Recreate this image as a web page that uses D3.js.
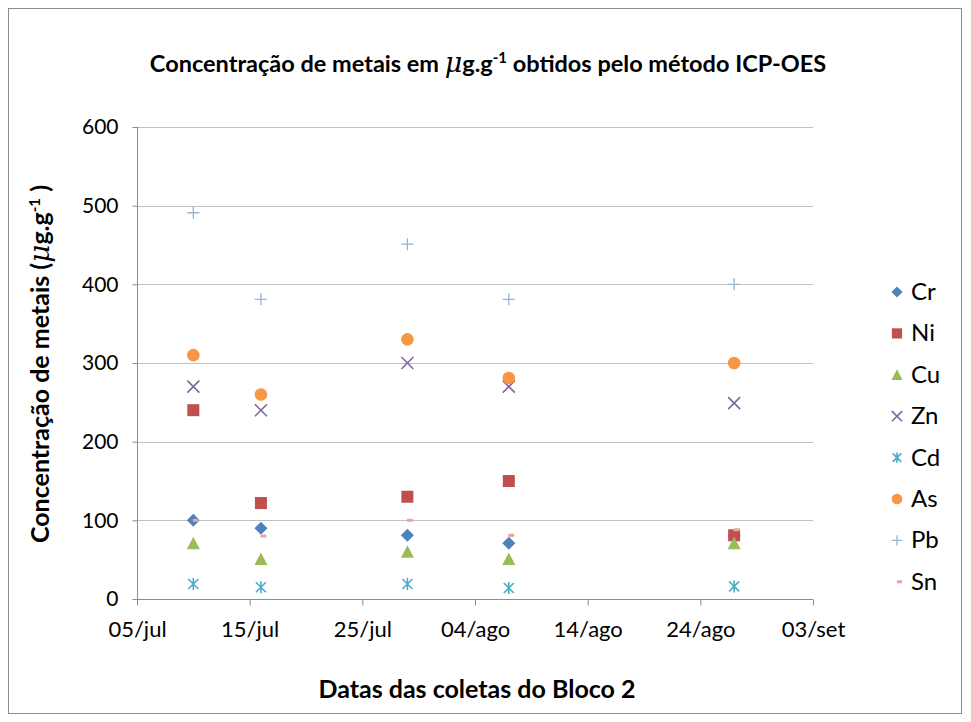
<!DOCTYPE html>
<html><head><meta charset="utf-8">
<script src="https://cdn.jsdelivr.net/npm/d3@7"></script>
<style>body{margin:0;background:#fff;} svg{display:block;font-family:Lato,"Open Sans",sans-serif;}</style>
</head><body>
<svg id="c" width="971" height="722"></svg>
<script>
const dates = ["2011-07-10","2011-07-16","2011-07-29","2011-08-07","2011-08-27"];
const seriesNames = ["Cr","Ni","Cu","Zn","Cd","As","Pb","Sn"];
const Cr = [100, 90, 81, 71, 80];
const Ni = [240, 122, 130, 150, 81];
const Cu = [71, 51, 60, 51, 71];
const Zn = [270, 240, 300, 270, 249];
const Cd = [19, 15, 19, 14, 16];
const As = [310, 260, 330, 281, 300];
const Pb = [491, 381, 451, 381, 400];
const Sn = [100, 80, 100, 81, 88];
const xTickDates = ["2011-07-05","2011-07-15","2011-07-25","2011-08-04","2011-08-14","2011-08-24","2011-09-03"];
const xTickLabels = ["05/jul","15/jul","25/jul","04/ago","14/ago","24/ago","03/set"];
const yTicks = [0,100,200,300,400,500,600];

const colors = {Cr:"#4F81BD",Ni:"#C0504D",Cu:"#9BBB59",Zn:"#8064A2",Cd:"#4BACC6",As:"#F79646",Pb:"#95B3D7",Sn:"#E6A5A3"};
const values = {Cr,Ni,Cu,Zn,Cd,As,Pb,Sn};

const svg = d3.select("#c");
const parse = d3.utcParse("%Y-%m-%d");
const L=137, R=813, T=127, B=599;
const x = d3.scaleUtc().domain([parse(xTickDates[0]), parse(xTickDates[xTickDates.length-1])]).range([L,R]);
const y = d3.scaleLinear().domain([0,600]).range([B,T]);

svg.append("rect").attr("x",8.5).attr("y",8.5).attr("width",953).attr("height",705).attr("fill","#fff").attr("stroke","#8c8c8c");

// gridlines
svg.append("g").selectAll("line").data(yTicks.filter(d=>d>0)).join("line")
  .attr("x1",L).attr("x2",R).attr("y1",d=>Math.round(y(d))+0.5).attr("y2",d=>Math.round(y(d))+0.5)
  .attr("stroke","#c0c0c0").attr("stroke-width",1);

// y axis
const ya = svg.append("g").attr("transform",`translate(${L+0.5},0)`)
  .call(d3.axisLeft(y).tickValues(yTicks).tickSize(5).tickPadding(14).tickFormat(d3.format("d")));
ya.select(".domain").attr("stroke","#8c8c8c").attr("d",`M0,${T}V${B}`);
ya.selectAll(".tick line").attr("stroke","#8c8c8c");
ya.selectAll(".tick text").attr("font-size",21).attr("fill","#000").attr("font-family","Lato");

// x axis
const xa = svg.append("g").attr("transform",`translate(0,${B+0.5})`)
  .call(d3.axisBottom(x).tickValues(xTickDates.map(parse)).tickSize(6).tickPadding(16)
    .tickFormat((d,i)=>xTickLabels[i]));
xa.select(".domain").attr("stroke","#8c8c8c").attr("d",`M${L},0H${R}`);
xa.selectAll(".tick line").attr("stroke","#8c8c8c");
xa.selectAll(".tick text").attr("font-size",22).attr("fill","#000").attr("font-family","Lato");

function marker(g, name, cx, cy, s){
  const c = colors[name];
  s = s||1;
  switch(name){
    case "Cr": g.append("path").attr("d",`M${cx},${cy-6.5*s}L${cx+6.5*s},${cy}L${cx},${cy+6.5*s}L${cx-6.5*s},${cy}Z`).attr("fill",c); break;
    case "Ni": g.append("rect").attr("x",cx-6*s).attr("y",cy-6*s).attr("width",12*s).attr("height",12*s).attr("fill",c); break;
    case "Cu": g.append("path").attr("d",`M${cx},${cy-6.5*s}L${cx+6.5*s},${cy+6*s}L${cx-6.5*s},${cy+6*s}Z`).attr("fill",c); break;
    case "Zn": g.append("path").attr("d",`M${cx-6*s},${cy-6*s}L${cx+6*s},${cy+6*s}M${cx+6*s},${cy-6*s}L${cx-6*s},${cy+6*s}`).attr("stroke",c).attr("stroke-width",1.6); break;
    case "Cd": g.append("path").attr("d",`M${cx-5*s},${cy-5*s}L${cx+5*s},${cy+5*s}M${cx+5*s},${cy-5*s}L${cx-5*s},${cy+5*s}M${cx},${cy-6*s}L${cx},${cy+6*s}`).attr("stroke",c).attr("stroke-width",1.6); break;
    case "As": g.append("circle").attr("cx",cx).attr("cy",cy).attr("r",6.3*s).attr("fill",c); break;
    case "Pb": g.append("path").attr("d",`M${cx-6*s},${cy}L${cx+6*s},${cy}M${cx},${cy-6*s}L${cx},${cy+6*s}`).attr("stroke",c).attr("stroke-width",1.3); break;
    case "Sn": g.append("rect").attr("x",cx-2.5*s+2).attr("y",cy-1.5).attr("width",6*s).attr("height",3).attr("fill",c); break;
  }
}

const pg = svg.append("g");
seriesNames.forEach(name=>{
  values[name].forEach((v,i)=>{
    marker(pg, name, x(parse(dates[i])), y(v));
  });
});

// title
const title = svg.append("text").attr("x",488).attr("y",72).attr("text-anchor","middle")
  .attr("font-size",23.5).attr("font-weight","bold").attr("fill","#000");
title.append("tspan").text("Concentração de metais em ");
title.append("tspan").attr("font-family","DejaVu Serif, serif").attr("font-style","italic").attr("font-weight","normal").attr("font-size",27).text("μ");
title.append("tspan").text("g.g");
title.append("tspan").attr("font-size",15).attr("dy",-9).text("-1");
title.append("tspan").attr("dy",9).text(" obtidos pelo método ICP-OES");

// y label
const yl = svg.append("text").attr("transform","translate(49,364) rotate(-90)").attr("text-anchor","middle")
  .attr("font-size",25).attr("font-weight","bold").attr("fill","#000");
yl.append("tspan").text("Concentração de metais (");
yl.append("tspan").attr("font-family","DejaVu Serif, serif").attr("font-style","italic").attr("font-weight","normal").attr("font-size",28).text("μ");
yl.append("tspan").text("g.g");
yl.append("tspan").attr("font-size",15).attr("dy",-9).text("-1");
yl.append("tspan").attr("dy",9).text(" )");

// x label
svg.append("text").attr("x",477).attr("y",698).attr("text-anchor","middle")
  .attr("font-size",25).attr("font-weight","bold").attr("fill","#000").text("Datas das coletas do Bloco 2");

// legend
const lg = svg.append("g");
seriesNames.forEach((name,i)=>{
  const cy = 292 + i*41.4;
  marker(lg, name, 897, cy, 0.85);
  lg.append("text").attr("x",911).attr("y",cy+8).attr("font-size",24).attr("fill","#000").text(name);
});
</script>
</body></html>
